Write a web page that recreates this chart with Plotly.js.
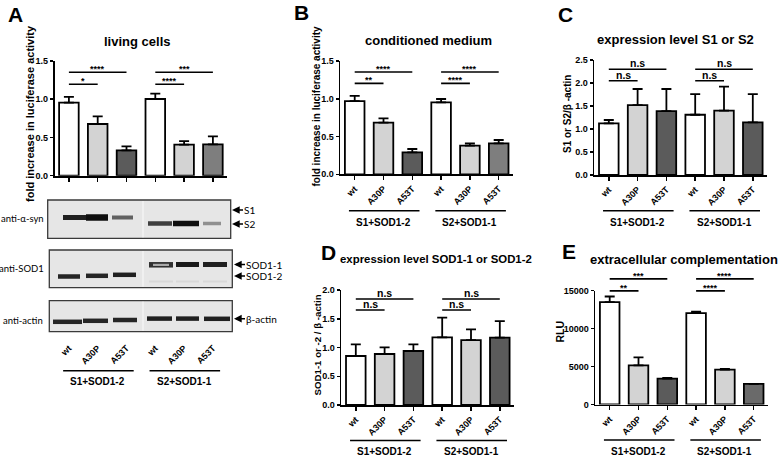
<!DOCTYPE html>
<html><head><meta charset="utf-8">
<script src="https://cdn.plot.ly/plotly-3.0.1.min.js"></script>
<style>html,body{margin:0;padding:0;background:#fff}#chart{width:778px;height:457px}</style>
</head><body><div id="chart"></div>
<script>
// ---------- data ----------
const categories = ['wt', 'A30P', 'A53T', 'wt', 'A30P', 'A53T'];
const groupLabels = ['S1+SOD1-2', 'S2+SOD1-1'];

const livingMean = [0.955, 0.676, 0.33, 1.003, 0.406, 0.41];
const livingErr  = [0.075, 0.10, 0.054, 0.07, 0.047, 0.105];
const condMean   = [0.97, 0.684, 0.291, 0.953, 0.379, 0.41];
const condErr    = [0.067, 0.057, 0.044, 0.044, 0.031, 0.044];
const s1s2Mean   = [1.123, 1.52, 1.39, 1.31, 1.40, 1.145];
const s1s2Err    = [0.073, 0.35, 0.48, 0.45, 0.52, 0.615];
const sodMean    = [0.852, 0.887, 0.939, 1.177, 1.13, 1.171];
const sodErr     = [0.203, 0.116, 0.116, 0.343, 0.186, 0.289];
const rluMean    = [13469, 5160, 3411, 12026, 4592, 2711];
const rluErr     = [744, 1050, 88, 175, 88, 0];

const sigLivingLabels = ['****', '*', '***', '****'];
const sigCondLabels   = ['****', '**', '****', '****'];
const sigS1S2Labels   = ['n.s', 'n.s', 'n.s', 'n.s'];
const sigSodLabels    = ['n.s', 'n.s', 'n.s', 'n.s'];
const sigRluLabels    = ['***', '**', '****', '****'];

// western blot band intensities (relative)
const synBands   = [0.92, 1.0, 0.62, 0.78, 1.0, 0.4];
const sodBands   = [0.9, 0.9, 0.92, 0.85, 0.95, 0.92];
const actinBands = [0.9, 0.9, 0.9, 0.92, 0.92, 0.92];

// ---------- layout helpers ----------
const W = 778, H = 457;
const px = v => v / W, py = v => 1 - v / H;
const FONT = 'Liberation Sans, Arial, sans-serif';
const LFONT = 'Lato, Noto Sans, sans-serif';
const WHITE = '#ffffff', LIGHT = '#d3d3d3', DARK = '#5b5b5b', MID = '#7e7e7e';

// significance brackets: [from, to] category indices
const sigPairs = [[0, 2], [0, 1], [3, 5], [3, 4]];

const panels = [
  {n: 1, mean: livingMean, err: livingErr, sig: sigLivingLabels, sigH: [1.352, 1.195, 1.352, 1.195],
   colors: [WHITE, LIGHT, DARK, WHITE, LIGHT, MID], xd: [54.5, 227.3], yd: [61, 175.7], ymax: 1.5, dtick: 0.5, fmt: '.1f',
   ytitle: 'fold increase in luciferase activity', ytfs: 11, ytpos: [30, 114],
   title: 'living cells', tfs: 13, tpos: [137, 41.5], tanchor: 'center',
   letter: 'A', lpos: [15, 14.5], gLineY: 370.7, gLabelY: 381.5, tls: 158},
  {n: 2, mean: condMean, err: condErr, sig: sigCondLabels, sigH: [1.354, 1.204, 1.354, 1.204],
   colors: [WHITE, LIGHT, DARK, WHITE, LIGHT, MID], xd: [340.3, 513.1], yd: [61, 174.3], ymax: 1.5, dtick: 0.5, fmt: '.1f',
   ytitle: 'fold increase in luciferase activity', ytfs: 10, ytpos: [316, 106.5],
   title: 'conditioned medium', tfs: 13, tpos: [429, 41], tanchor: 'center',
   letter: 'B', lpos: [301.5, 12.5], gLineY: 210.7, gLabelY: 222, tls: 0},
  {n: 3, mean: s1s2Mean, err: s1s2Err, sig: sigS1S2Labels, sigH: [2.30, 2.05, 2.30, 2.05],
   colors: [WHITE, LIGHT, DARK, WHITE, LIGHT, DARK], xd: [594.4, 767.2], yd: [60, 175], ymax: 2.5, dtick: 0.5, fmt: '.1f',
   ytitle: 'S1 or S2/β -actin', ytfs: 10, ytpos: [567, 114],
   title: 'expression level S1 or S2', tfs: 13, tpos: [675, 39.5], tanchor: 'center',
   letter: 'C', lpos: [565, 14.5], gLineY: 210.7, gLabelY: 222, tls: 0},
  {n: 4, mean: sodMean, err: sodErr, sig: sigSodLabels, sigH: [1.843, 1.652, 1.843, 1.652],
   colors: [WHITE, LIGHT, DARK, WHITE, LIGHT, DARK], xd: [341.4, 514.2], yd: [290, 405], ymax: 2.0, dtick: 0.5, fmt: '.1f',
   ytitle: 'SOD1-1 or -2 / β -actin', ytfs: 9.7, ytpos: [316.5, 345],
   title: 'expression level SOD1-1 or SOD1-2', tfs: 11.4, tpos: [338, 258.5], tanchor: 'left',
   letter: 'D', lpos: [328, 252.5], gLineY: 440.5, gLabelY: 451, tls: 0},
  {n: 5, mean: rluMean, err: rluErr, sig: sigRluLabels, sigH: [16535, 14950, 16535, 14950],
   colors: [WHITE, LIGHT, DARK, WHITE, LIGHT, '#6a6a6a'], xd: [595.3, 768.1], yd: [290.5, 404.5], ymax: 15000, dtick: 5000, fmt: 'd',
   ytitle: 'RLU', ytfs: 10.5, ytpos: [559.5, 332],
   title: 'extracellular complementation', tfs: 13, tpos: [683.7, 259.5], tanchor: 'center',
   letter: 'E', lpos: [569, 251.5], gLineY: 440, gLabelY: 451, tls: 0}
];

const data = [];
const layout = {
  width: W, height: H, margin: {l: 0, r: 0, t: 0, b: 0},
  paper_bgcolor: '#fff', plot_bgcolor: 'rgba(0,0,0,0)', showlegend: false,
  font: {family: FONT, color: '#000'},
  shapes: [], annotations: []
};

function paperText(text, x, y, font, extra) {
  return Object.assign({xref: 'paper', yref: 'paper', x: px(x), y: py(y), xanchor: 'center', yanchor: 'middle',
                        showarrow: false, text: text, font: font}, extra || {});
}

panels.forEach(p => {
  const sx = p.n === 1 ? '' : String(p.n);
  const xa = 'x' + sx, ya = 'y' + sx;
  data.push({
    type: 'bar', x: categories.map((c, i) => i), y: p.mean, xaxis: xa, yaxis: ya,
    width: 0.68, hoverinfo: 'skip',
    marker: {color: p.colors, line: {color: '#000', width: 1.8}},
    error_y: {type: 'data', symmetric: false, array: p.err, arrayminus: p.err.map(() => 0),
              color: '#000', thickness: 1.8, width: 5}
  });
  layout['xaxis' + sx] = {
    domain: [px(p.xd[0]), px(p.xd[1])], anchor: ya, range: [-0.5, 5.5],
    tickvals: categories.map((c, i) => i), ticktext: categories, tickangle: -45,
    ticks: 'outside', ticklen: 4, tickwidth: 1.5, tickcolor: '#000',
    showline: true, linecolor: '#000', linewidth: 1.8, showgrid: false, zeroline: false,
    tickfont: {family: FONT, size: 9, weight: 'bold', color: '#000'},
    ticklabelstandoff: p.tls, fixedrange: true
  };
  layout['yaxis' + sx] = {
    domain: [py(p.yd[1]), py(p.yd[0])], anchor: xa, range: [0, p.ymax], dtick: p.dtick, tick0: 0,
    tickformat: p.fmt, ticks: 'outside', ticklen: 3, tickwidth: 1.5, tickcolor: '#000',
    showline: true, linecolor: '#000', linewidth: 1.8, showgrid: false, zeroline: false,
    tickfont: {family: FONT, size: 9, weight: 'bold', color: '#000'},
    fixedrange: true
  };
  // y-axis title (placed as rotated text)
  layout.annotations.push(paperText(p.ytitle, p.ytpos[0], p.ytpos[1],
    {family: FONT, size: p.ytfs, weight: 'bold', color: '#000'}, {textangle: -90}));
  // significance brackets
  sigPairs.forEach((pr, k) => {
    const yd = p.sigH[k] / p.ymax;
    layout.shapes.push({type: 'line', xref: xa, yref: ya + ' domain', x0: pr[0], x1: pr[1], y0: yd, y1: yd,
                        line: {color: '#000', width: 1.6}});
    layout.annotations.push({xref: xa, yref: ya + ' domain', x: (pr[0] + pr[1]) / 2, y: yd,
                             xanchor: 'center', yanchor: 'bottom',
                             yshift: p.sig[k] === 'n.s' ? -1 : -3, showarrow: false, borderpad: 0, text: p.sig[k],
                             font: {family: FONT, size: p.sig[k] === 'n.s' ? 10.5 : 9, weight: 'bold', color: '#000'}});
  });
  // group lines and labels
  groupLabels.forEach((g, k) => {
    const s = k * 3;
    layout.shapes.push({type: 'line', xref: xa, yref: 'paper', x0: s - 0.2, x1: s + 2.25,
                        y0: py(p.gLineY), y1: py(p.gLineY), line: {color: '#000', width: 1.6}});
    layout.annotations.push({xref: xa, yref: 'paper', x: s + 1, y: py(p.gLabelY), xanchor: 'center', yanchor: 'middle',
                             showarrow: false, text: g, font: {family: FONT, size: 10, weight: 'bold', color: '#000'}});
  });
  // panel title and letter
  layout.annotations.push(paperText(p.title, p.tpos[0], p.tpos[1],
    {family: FONT, size: p.tfs, weight: 'bold', color: '#000'}, {xanchor: p.tanchor}));
  layout.annotations.push(paperText(p.letter, p.lpos[0], p.lpos[1],
    {family: FONT, size: 21, weight: 'bold', color: '#000'}));
});

// ---------- western blots (panel A) ----------
const blots = [
  {label: 'anti-α-syn', box: [47.7, 230.7, 200, 238.3], labelX: 45.5, labelY: 218.5, bands: synBands,
   lanes: [[63, 89], [86, 108], [112, 133], [148, 172], [173, 199], [203, 221]],
   ys: [217.5, 217.5, 217.5, 223.5, 223.5, 223.5], hs: [5, 6.5, 4, 4.5, 5.5, 3.5]},
  {label: 'anti-SOD1', box: [49.3, 232.3, 250, 287.7], labelX: 46, labelY: 268.5, bands: sodBands,
   lanes: [[58, 80], [86, 108], [113, 136], [149, 173], [176, 199], [203, 227]],
   ys: [276.5, 275.8, 274.8, 264.8, 264.5, 264.5], hs: [4.5, 4.5, 4.5, 5.5, 5, 5]},
  {label: 'anti-actin', box: [49.3, 232.3, 300.7, 331.7], labelX: 45, labelY: 320.5, bands: actinBands,
   lanes: [[53, 82], [83, 108], [113, 137], [147, 172], [176, 199], [204, 230]],
   ys: [321.8, 320.8, 320, 318.6, 318.6, 318.8], hs: [4.5, 4.5, 4.5, 4.5, 4.5, 4.5]}
];
blots.forEach(b => {
  layout.shapes.push({type: 'rect', xref: 'paper', yref: 'paper', x0: px(b.box[0]), x1: px(b.box[1]),
                      y0: py(b.box[3]), y1: py(b.box[2]), fillcolor: '#e6e6e6', line: {color: '#3a3a3a', width: 1.3}});
  layout.shapes.push({type: 'line', xref: 'paper', yref: 'paper', x0: px(143), x1: px(143),
                      y0: py(b.box[3] - 1), y1: py(b.box[2] + 1), line: {color: '#f3f3f3', width: 1.5}});
  b.lanes.forEach((ln, i) => {
    const a = b.bands[i];
    layout.shapes.push({type: 'rect', xref: 'paper', yref: 'paper', x0: px(ln[0]), x1: px(ln[1]),
                        y0: py(b.ys[i] + b.hs[i] / 2), y1: py(b.ys[i] - b.hs[i] / 2),
                        fillcolor: 'rgba(15,15,15,' + a + ')', line: {width: 0}});
  });
  layout.annotations.push(paperText(b.label, b.labelX, b.labelY, {family: LFONT, size: 9.5, color: '#000'},
                                    {xanchor: 'right'}));
});
// hollow centre of SOD1-1 wt band and faint lower bands
layout.shapes.push({type: 'rect', xref: 'paper', yref: 'paper', x0: px(153), x1: px(169), y0: py(266), y1: py(263.8),
                    fillcolor: 'rgba(200,200,200,0.8)', line: {width: 0}});
[[149, 173], [176, 199], [203, 227]].forEach(ln => {
  layout.shapes.push({type: 'rect', xref: 'paper', yref: 'paper', x0: px(ln[0]), x1: px(ln[1]), y0: py(282.5), y1: py(280.5),
                      fillcolor: 'rgba(0,0,0,0.06)', line: {width: 0}});
});
// marker arrows
[['S1', 232, 210], ['S2', 232, 224], ['SOD1-1', 234, 264.5], ['SOD1-2', 234, 276], ['β-actin', 234, 318.7]].forEach(m => {
  layout.annotations.push({xref: 'paper', yref: 'paper', x: px(m[1]), y: py(m[2]), ax: 11, ay: 0,
                           showarrow: true, arrowhead: 2, arrowsize: 1.1, arrowwidth: 1.4, arrowcolor: '#000',
                           xanchor: 'left', yanchor: 'middle', borderpad: 0, text: m[0],
                           font: {family: LFONT, size: 10, color: '#000'}});
});

Plotly.newPlot('chart', data, layout, {displayModeBar: false, staticPlot: true});
</script>
</body></html>
